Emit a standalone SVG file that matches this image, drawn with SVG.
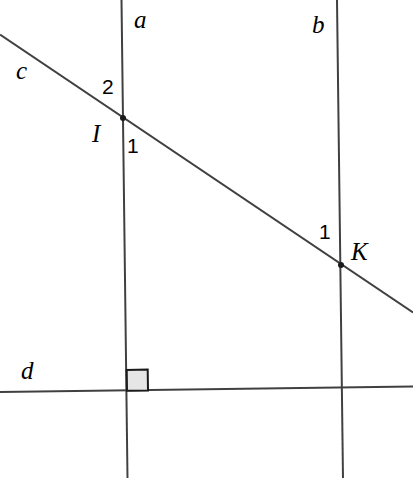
<svg xmlns="http://www.w3.org/2000/svg" width="413" height="479" viewBox="0 0 413 479">
<style>
.ln{stroke:#404040;stroke-width:2;fill:none}
.var{font-family:"Liberation Serif",serif;font-style:italic;font-size:25px;fill:#000}
.num{font-family:"Liberation Sans",sans-serif;font-size:21px;fill:#000}
.pt{fill:#1a1a1a}
</style>
<rect width="413" height="479" fill="#fff"/>
<g id="connectors">
<line id="line-a" class="ln" x1="121.5" y1="0" x2="127.5" y2="478"/>
<line id="line-b" class="ln" x1="337" y1="0" x2="343" y2="478"/>
<line id="line-c" class="ln" x1="0" y1="34.5" x2="413" y2="312.5"/>
<line id="line-d" class="ln" x1="0" y1="392" x2="413" y2="386.5"/>
</g>
<g id="right-angle">
<polygon points="127,390.8 148,390.5 147.7,369.6 126.7,369.9" fill="#e6e6e6" stroke="#1a1a1a" stroke-width="2"/>
</g>
<g id="label-a"><text class="var" x="134" y="28">a</text></g>
<g id="label-b"><text class="var" x="312" y="33">b</text></g>
<g id="label-c"><text class="var" x="16" y="79">c</text></g>
<g id="label-d"><text class="var" x="21" y="379">d</text></g>
<g id="point-I">
<circle class="pt" cx="123" cy="118" r="3"/>
<text class="var" x="92" y="142">I</text>
<text class="num" x="102" y="94">2</text>
<text class="num" x="127" y="153">1</text>
</g>
<g id="point-K">
<circle class="pt" cx="341" cy="265" r="3"/>
<text class="var" x="351" y="260">K</text>
<text class="num" x="319" y="239">1</text>
</g>
</svg>
